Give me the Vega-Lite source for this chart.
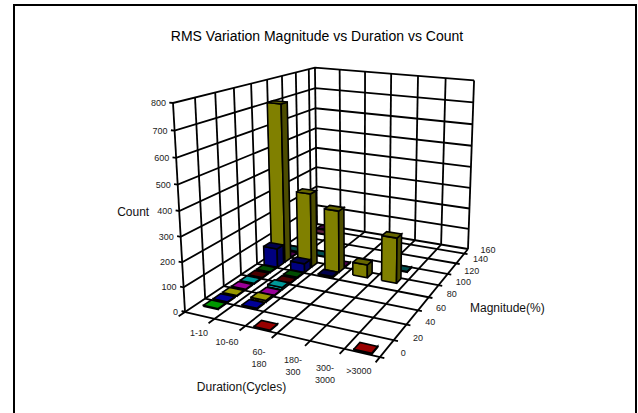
{
"$schema":"https://vega.github.io/schema/vega-lite/v6.json",
"width":622,"height":420,"padding":{"left":14,"top":5,"right":2,"bottom":0},"autosize":{"type":"none"},
"background":"white",
"view":{"stroke":"black","strokeWidth":2,"fill":"white"},
"title":{"text":"RMS Variation Magnitude vs Duration vs Count","font":"Liberation Sans","fontSize":14,"fontWeight":"normal","color":"black","offset":-39,"dx":-8},
"config":{"axis":{"domain":false},"text":{"font":"Liberation Sans"}},
"datasets":{
"grid":[
{"id":"f0","p":[[0,0,0],[0,170,0]]},{"id":"f1","p":[[1,0,0],[1,170,0]]},{"id":"f2","p":[[2,0,0],[2,170,0]]},{"id":"f3","p":[[3,0,0],[3,170,0]]},{"id":"f4","p":[[4,0,0],[4,170,0]]},{"id":"f5","p":[[5,0,0],[5,170,0]]},{"id":"f6","p":[[6,-6,0],[6,170,0]]},
{"id":"m0","p":[[-0.1,0,0],[6.12,0,0]]},{"id":"m20","p":[[0,20,0],[6.12,20,0]]},{"id":"m40","p":[[0,40,0],[6.12,40,0]]},{"id":"m60","p":[[0,60,0],[6.12,60,0]]},{"id":"m80","p":[[0,80,0],[6.12,80,0]]},{"id":"m100","p":[[0,100,0],[6.12,100,0]]},{"id":"m120","p":[[0,120,0],[6.12,120,0]]},{"id":"m140","p":[[0,140,0],[6.12,140,0]]},{"id":"m160","p":[[0,160,0],[6.12,160,0]]},{"id":"m170","p":[[0,170,0],[6,170,0]]},
{"id":"t1","p":[[0,-6,0],[0,0,0]]},{"id":"t2","p":[[1,-6,0],[1,0,0]]},{"id":"t3","p":[[2,-6,0],[2,0,0]]},{"id":"t4","p":[[3,-6,0],[3,0,0]]},{"id":"t5","p":[[4,-6,0],[4,0,0]]},{"id":"t6","p":[[5,-6,0],[5,0,0]]},
{"id":"l0","p":[[0,0,0],[0,0,800]]},{"id":"l20","p":[[0,20,0],[0,20,800]]},{"id":"l40","p":[[0,40,0],[0,40,800]]},{"id":"l60","p":[[0,60,0],[0,60,800]]},{"id":"l80","p":[[0,80,0],[0,80,800]]},{"id":"l100","p":[[0,100,0],[0,100,800]]},{"id":"l120","p":[[0,120,0],[0,120,800]]},{"id":"l140","p":[[0,140,0],[0,140,800]]},{"id":"l160","p":[[0,160,0],[0,160,800]]},{"id":"l170","p":[[0,170,0],[0,170,800]]},
{"id":"h100","p":[[-0.12,0,100],[0,0,100],[0,170,100],[6,170,100]]},{"id":"h200","p":[[-0.12,0,200],[0,0,200],[0,170,200],[6,170,200]]},{"id":"h300","p":[[-0.12,0,300],[0,0,300],[0,170,300],[6,170,300]]},{"id":"h400","p":[[-0.12,0,400],[0,0,400],[0,170,400],[6,170,400]]},{"id":"h500","p":[[-0.12,0,500],[0,0,500],[0,170,500],[6,170,500]]},{"id":"h600","p":[[-0.12,0,600],[0,0,600],[0,170,600],[6,170,600]]},{"id":"h700","p":[[-0.12,0,700],[0,0,700],[0,170,700],[6,170,700]]},{"id":"h800","p":[[-0.12,0,800],[0,0,800],[0,170,800],[6,170,800]]},{"id":"h0","p":[[-0.12,0,0],[0,0,0]]},
{"id":"b1","p":[[1,170,0],[1,170,800]]},{"id":"b2","p":[[2,170,0],[2,170,800]]},{"id":"b3","p":[[3,170,0],[3,170,800]]},{"id":"b4","p":[[4,170,0],[4,170,800]]},{"id":"b5","p":[[5,170,0],[5,170,800]]},{"id":"b6","p":[[6,170,0],[6,170,800]]}
],
"bars":[
{"duration":0,"magnitude":160,"count":3},
{"duration":0,"magnitude":150,"count":3},
{"duration":0,"magnitude":110,"count":3},
{"duration":0,"magnitude":100,"count":3},
{"duration":1,"magnitude":110,"count":3},
{"duration":2,"magnitude":100,"count":3},
{"duration":4,"magnitude":110,"count":3},
{"duration":0,"magnitude":90,"count":712},
{"duration":1,"magnitude":90,"count":334},
{"duration":2,"magnitude":90,"count":277},
{"duration":3,"magnitude":90,"count":58},
{"duration":4,"magnitude":90,"count":200},
{"duration":0,"magnitude":80,"count":85},
{"duration":1,"magnitude":80,"count":40},
{"duration":2,"magnitude":80,"count":6},
{"duration":0,"magnitude":70,"count":3},
{"duration":1,"magnitude":70,"count":4},
{"duration":0,"magnitude":60,"count":3},
{"duration":1,"magnitude":60,"count":3},
{"duration":0,"magnitude":50,"count":3},
{"duration":1,"magnitude":50,"count":10},
{"duration":0,"magnitude":40,"count":3},
{"duration":1,"magnitude":40,"count":3},
{"duration":0,"magnitude":30,"count":3},
{"duration":1,"magnitude":30,"count":8},
{"duration":0,"magnitude":20,"count":3},
{"duration":1,"magnitude":20,"count":4},
{"duration":0,"magnitude":10,"count":3},
{"duration":2,"magnitude":0,"count":2},
{"duration":5,"magnitude":0,"count":3}
],
"counts":[{"c":0},{"c":100},{"c":200},{"c":300},{"c":400},{"c":500},{"c":600},{"c":700},{"c":800}],
"dlabels":[
{"t":"1-10","d":1.098,"m":-17.85},{"t":"10-60","d":2.034,"m":-19.55},{"t":"60-\n180","d":3.084,"m":-22.1},{"t":"180-\n300","d":4.074,"m":-22.1},{"t":"300-\n3000","d":4.968,"m":-22.1},{"t":">3000","d":5.778,"m":-17}
],
"mlabels":[{"t":"0","m":8},{"t":"20","m":27},{"t":"40","m":48},{"t":"60","m":68},{"t":"80","m":90},{"t":"100","m":110},{"t":"120","m":130},{"t":"140","m":152},{"t":"160","m":173}],
"titles":[{"t":"Count","d":-1.6,"m":0,"c":365},{"t":"Duration(Cycles)","d":3.55,"m":-54,"c":0},{"t":"Magnitude(%)","d":8.34,"m":86,"c":0}]
},
"layer":[
{"data":{"name":"grid"},
 "transform":[{"flatten":["p"]},{"calculate":"datum.p[0]/6","as":"u"},{"calculate":"datum.p[1]/170","as":"v"},{"calculate":"datum.p[2]/800","as":"w"},
  {"calculate":"(185+155.58*datum.u+243.53*datum.v-23.24*datum.w)/(1-0.10374*datum.u+0.35184*datum.v-0.065*datum.w)","as":"px"},
  {"calculate":"(312+7.97*datum.u-9.19*datum.v-215.7*datum.w)/(1-0.10374*datum.u+0.35184*datum.v-0.065*datum.w)","as":"py"}],
 "mark":{"type":"line","stroke":"black","strokeWidth":1.8,"clip":false},
 "encoding":{"x":{"field":"px","type":"quantitative","axis":null,"scale":{"domain":[14,636],"nice":false,"zero":false}},
  "y":{"field":"py","type":"quantitative","axis":null,"scale":{"domain":[425,5],"nice":false,"zero":false}},
  "detail":{"field":"id"},"order":{"field":"seq"}}
},
{"data":{"name":"bars"},
 "transform":[
  {"calculate":"[0,1,2,3,4,5,6,7,8,9,10,11,12,13,14]","as":"k"},{"flatten":["k"]},
  {"calculate":"floor(datum.k/5)","as":"face"},
  {"calculate":"(datum.duration+0.5)/6+0.0845*([0,1,1,0,0,1,1,1,1,1,0,1,1,0,0][datum.k]-0.5)","as":"u"},
  {"calculate":"(datum.magnitude/10+0.5)/17+0.048*([0,0,0,0,0,0,1,1,0,0,0,0,1,1,0][datum.k]-0.5)","as":"v"},
  {"calculate":"datum.count/800*[0,0,1,1,0,0,0,1,1,0,1,1,1,1,1][datum.k]","as":"w"},
  {"calculate":"(185+155.58*datum.u+243.53*datum.v-23.24*datum.w)/(1-0.10374*datum.u+0.35184*datum.v-0.065*datum.w)","as":"px"},
  {"calculate":"(312+7.97*datum.u-9.19*datum.v-215.7*datum.w)/(1-0.10374*datum.u+0.35184*datum.v-0.065*datum.w)","as":"py"},
  {"calculate":"datum.magnitude/10","as":"r"},
  {"calculate":"[['#FF0000','#B30000','#990000'],['#00FF00','#00B300','#009900'],['#0000FF','#0000B3','#000099'],['#FFFF00','#B3B300','#999900'],['#FF00FF','#B300B3','#990099'],['#00FFFF','#00B3B3','#009999'],['#800000','#5A0000','#4D0000'],['#008000','#005A00','#004D00'],['#000080','#00005A','#00004D'],['#808000','#4D4D00','#666600'],['#800080','#5A005A','#4D004D'],['#008080','#005A5A','#004D4D'],['#C0C0C0','#868686','#737373'],['#808080','#5A5A5A','#4D4D4D'],['#9999FF','#6B6BB3','#5C5C99'],['#993366','#6B2447','#5C1F3D'],['#660066','#470047','#3D003D']][datum.r][datum.face]","as":"faceColor"},
  {"calculate":"datum.duration+'-'+datum.magnitude+'-'+datum.face","as":"poly"}
 ],
 "mark":{"type":"line","stroke":"black","strokeWidth":1.6,"strokeJoin":"miter","clip":false},
 "encoding":{"x":{"field":"px","type":"quantitative"},"y":{"field":"py","type":"quantitative"},
  "fill":{"field":"faceColor","type":"nominal","scale":null},
  "detail":{"field":"poly"},"order":{"field":"k"}}
},
{"data":{"name":"counts"},
 "transform":[{"calculate":"datum.c/800","as":"w"},
  {"calculate":"(185-23.24*datum.w)/(1-0.065*datum.w)","as":"px"},{"calculate":"(312-215.7*datum.w)/(1-0.065*datum.w)","as":"py"}],
 "mark":{"type":"text","align":"right","baseline":"middle","dx":-7,"fontSize":9,"color":"#222"},
 "encoding":{"x":{"field":"px","type":"quantitative"},"y":{"field":"py","type":"quantitative"},"text":{"field":"c"}}
},
{"data":{"name":"dlabels"},
 "transform":[{"calculate":"datum.d/6","as":"u"},{"calculate":"datum.m/170","as":"v"},
  {"calculate":"(185+155.58*datum.u+243.53*datum.v)/(1-0.10374*datum.u+0.35184*datum.v)","as":"px"},
  {"calculate":"(312+7.97*datum.u-9.19*datum.v)/(1-0.10374*datum.u+0.35184*datum.v)","as":"py"}],
 "mark":{"type":"text","align":"center","baseline":"middle","fontSize":9,"color":"#222","lineBreak":"\n","lineHeight":12},
 "encoding":{"x":{"field":"px","type":"quantitative"},"y":{"field":"py","type":"quantitative"},"text":{"field":"t"}}
},
{"data":{"name":"mlabels"},
 "transform":[{"calculate":"1.07","as":"u"},{"calculate":"datum.m/170","as":"v"},
  {"calculate":"(185+155.58*datum.u+243.53*datum.v)/(1-0.10374*datum.u+0.35184*datum.v)","as":"px"},
  {"calculate":"(312+7.97*datum.u-9.19*datum.v)/(1-0.10374*datum.u+0.35184*datum.v)","as":"py"}],
 "mark":{"type":"text","align":"left","baseline":"middle","fontSize":9,"color":"#222"},
 "encoding":{"x":{"field":"px","type":"quantitative"},"y":{"field":"py","type":"quantitative"},"text":{"field":"t"}}
},
{"data":{"name":"titles"},
 "transform":[{"calculate":"datum.d/6","as":"u"},{"calculate":"datum.m/170","as":"v"},{"calculate":"datum.c/800","as":"w"},
  {"calculate":"(185+155.58*datum.u+243.53*datum.v-23.24*datum.w)/(1-0.10374*datum.u+0.35184*datum.v-0.065*datum.w)","as":"px"},
  {"calculate":"(312+7.97*datum.u-9.19*datum.v-215.7*datum.w)/(1-0.10374*datum.u+0.35184*datum.v-0.065*datum.w)","as":"py"}],
 "mark":{"type":"text","align":"center","baseline":"middle","fontSize":12,"color":"#111"},
 "encoding":{"x":{"field":"px","type":"quantitative"},"y":{"field":"py","type":"quantitative"},"text":{"field":"t"}}
}
]
}
